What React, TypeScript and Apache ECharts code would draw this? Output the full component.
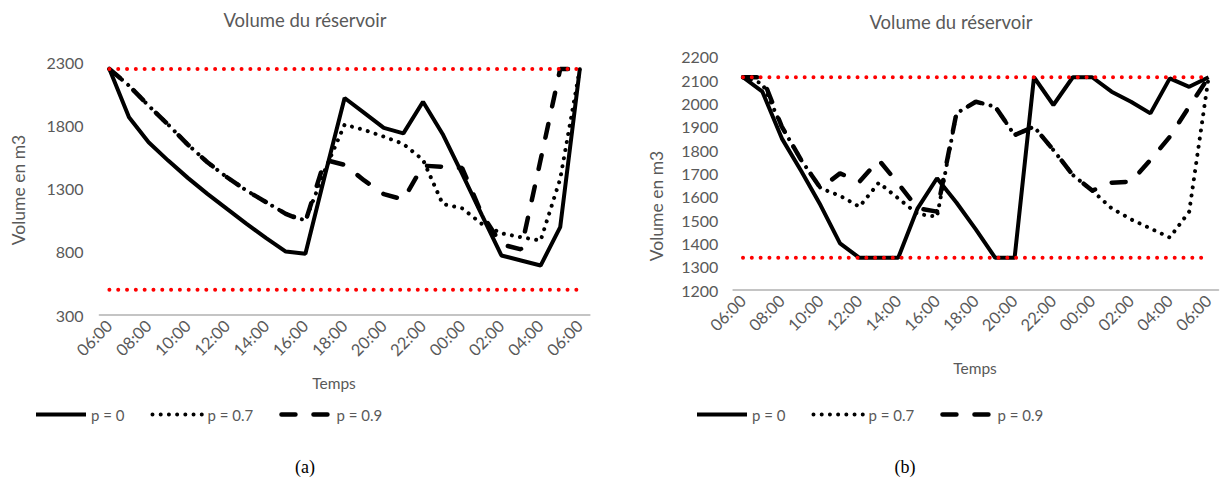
import { useEffect, useRef } from 'react';
import * as echarts from 'echarts';

// ---------- data ----------
const timeLabels = [
  '06:00', '07:00', '08:00', '09:00', '10:00', '11:00', '12:00', '13:00', '14:00',
  '15:00', '16:00', '17:00', '18:00', '19:00', '20:00', '21:00', '22:00', '23:00',
  '00:00', '01:00', '02:00', '03:00', '04:00', '05:00', '06:00',
];

const seriesNames = ['p = 0', 'p = 0.7', 'p = 0.9'];

// Panel (a)
const volA_p0 = [2250, 1867, 1669, 1524, 1387, 1260, 1141, 1023, 909, 803, 785, 1410, 2020, 1902, 1783, 1740, 1991, 1735, 1419, 1094, 772, 732, 692, 996, 2250];
const volA_p07 = [2250, 2118, 1959, 1809, 1651, 1511, 1392, 1286, 1194, 1102, 1049, 1450, 1809, 1767, 1714, 1656, 1530, 1181, 1145, 1023, 948, 917, 890, 1379, 2250];
const volA_p09 = [2250, 2118, 1959, 1809, 1651, 1511, 1392, 1286, 1194, 1102, 1040, 1530, 1490, 1367, 1258, 1215, 1484, 1475, 1465, 1100, 860, 820, 1530, 2250, 2250];
const volA_max = 2250;
const volA_min = 500;
const yA_min = 300;
const yA_max = 2300;
const yA_step = 500;

// Panel (b)
const volB_p0 = [2112, 2050, 1850, 1710, 1563, 1400, 1338, 1338, 1338, 1550, 1679, 1575, 1460, 1338, 1338, 2112, 1993, 2112, 2112, 2050, 2007, 1957, 2107, 2071, 2112];
const volB_p07 = [2112, 2085, 1900, 1757, 1636, 1604, 1557, 1660, 1593, 1526, 1514, 1957, 2007, 1986, 1864, 1900, 1800, 1693, 1626, 1550, 1503, 1464, 1425, 1536, 2112];
const volB_p09 = [2112, 2112, 1900, 1757, 1636, 1700, 1664, 1757, 1657, 1550, 1536, 1957, 2007, 1986, 1864, 1900, 1800, 1693, 1626, 1660, 1664, 1757, 1857, 1986, 2112];
const volB_max = 2112;
const volB_min = 1338;
const yB_min = 1200;
const yB_max = 2200;
const yB_step = 100;

// ---------- styling ----------
const GREY = '#595959';
const FONT = 'Lato, "Noto Sans", sans-serif';

const lineStyles: Record<string, any> = {
  'p = 0': { type: 'solid', width: 4, color: '#000' },
  'p = 0.7': { type: [0.01, 8.2], width: 4, cap: 'round', color: '#000' },
  'p = 0.9': { type: [14, 18], width: 4.5, cap: 'round', color: '#000' },
};

function blackSeries(name: string, data: number[], idx: number) {
  return {
    name,
    type: 'line',
    xAxisIndex: idx,
    yAxisIndex: idx,
    data,
    symbol: 'none',
    showSymbol: false,
    color: '#000',
    lineStyle: lineStyles[name],
    z: 2,
  };
}

function boundSeries(name: string, value: number, idx: number) {
  return {
    name,
    type: 'line',
    xAxisIndex: idx,
    yAxisIndex: idx,
    data: timeLabels.map(() => value),
    symbol: 'none',
    showSymbol: false,
    silent: true,
    color: '#ff0000',
    lineStyle: { type: [0.01, 8.8], width: 4, cap: 'round', color: '#ff0000' },
    z: 3,
  };
}

function xAxis(idx: number) {
  return {
    type: 'category',
    gridIndex: idx,
    data: timeLabels,
    boundaryGap: true,
    axisTick: { show: false },
    axisLine: { lineStyle: { color: '#c4c4c4', width: 2 } },
    axisLabel: { interval: 1, rotate: 45, color: GREY, fontSize: 16.5, fontFamily: FONT, margin: 8 },
    splitLine: { show: false },
  };
}

function yAxis(idx: number, min: number, max: number, interval: number, margin: number) {
  return {
    type: 'value',
    gridIndex: idx,
    min,
    max,
    interval,
    axisLine: { show: false },
    axisTick: { show: false },
    splitLine: { show: false },
    axisLabel: {
      color: GREY,
      fontSize: 16,
      fontFamily: FONT,
      margin,
      formatter: (v: number) => String(v),
    },
  };
}

function legend(left: number) {
  return {
    data: seriesNames.map((n) => ({ name: n, lineStyle: lineStyles[n], itemStyle: { opacity: 0 } })),
    left,
    top: 407,
    padding: 0,
    itemWidth: 50,
    itemHeight: 14,
    itemGap: 26,
    selectedMode: false,
    itemStyle: { opacity: 0 },
    textStyle: { color: GREY, fontSize: 15, fontFamily: FONT },
  };
}

function label(text: string, x: number, y: number, size: number, rotation = 0, color = GREY, family = FONT) {
  return {
    type: 'text',
    x,
    y,
    rotation,
    style: {
      text,
      fill: color,
      fontSize: size,
      fontFamily: family,
      textAlign: 'center',
      textVerticalAlign: 'middle',
      align: 'center',
      verticalAlign: 'middle',
    },
  };
}

const SERIF = '"Liberation Serif", "DejaVu Serif", serif';

export default function App() {
  const ref = useRef<HTMLDivElement>(null);

  useEffect(() => {
    if (!ref.current) return;
    const chart = echarts.init(ref.current, undefined, { renderer: 'svg' });
    chart.setOption({
      animation: false,
      backgroundColor: '#fff',
      textStyle: { fontFamily: FONT },
      grid: [
        { left: 99.6, top: 62.7, width: 490, height: 252.3, outerBoundsMode: 'none', containLabel: false },
        { left: 733.3, top: 56.7, width: 485, height: 233.3, outerBoundsMode: 'none', containLabel: false },
      ],
      xAxis: [xAxis(0), xAxis(1)],
      yAxis: [
        yAxis(0, yA_min, yA_max, yA_step, 16),
        yAxis(1, yB_min, yB_max, yB_step, 15),
      ],
      legend: [legend(34), legend(695)],
      series: [
        blackSeries('p = 0', volA_p0, 0),
        blackSeries('p = 0.7', volA_p07, 0),
        blackSeries('p = 0.9', volA_p09, 0),
        boundSeries('Volume max (a)', volA_max, 0),
        boundSeries('Volume min (a)', volA_min, 0),
        blackSeries('p = 0', volB_p0, 1),
        blackSeries('p = 0.7', volB_p07, 1),
        blackSeries('p = 0.9', volB_p09, 1),
        boundSeries('Volume max (b)', volB_max, 1),
        boundSeries('Volume min (b)', volB_min, 1),
      ],
      graphic: [
        label('Volume du réservoir', 305, 20, 18.5),
        label('Volume du réservoir', 951, 22, 18.5),
        label('Volume en m3', 18, 190, 17.5, Math.PI / 2),
        label('Volume en m3', 656, 206, 17.5, Math.PI / 2),
        label('Temps', 334, 383, 15.5),
        label('Temps', 975, 368, 15.5),
        label('(a)', 305, 467, 18, 0, '#000', SERIF),
        label('(b)', 905, 467, 18, 0, '#000', SERIF),
      ],
    });
    return () => chart.dispose();
  }, []);

  return (
    <div
      ref={ref}
      style={{ position: 'fixed', left: 0, top: 0, width: 1221, height: 482 }}
    />
  );
}
